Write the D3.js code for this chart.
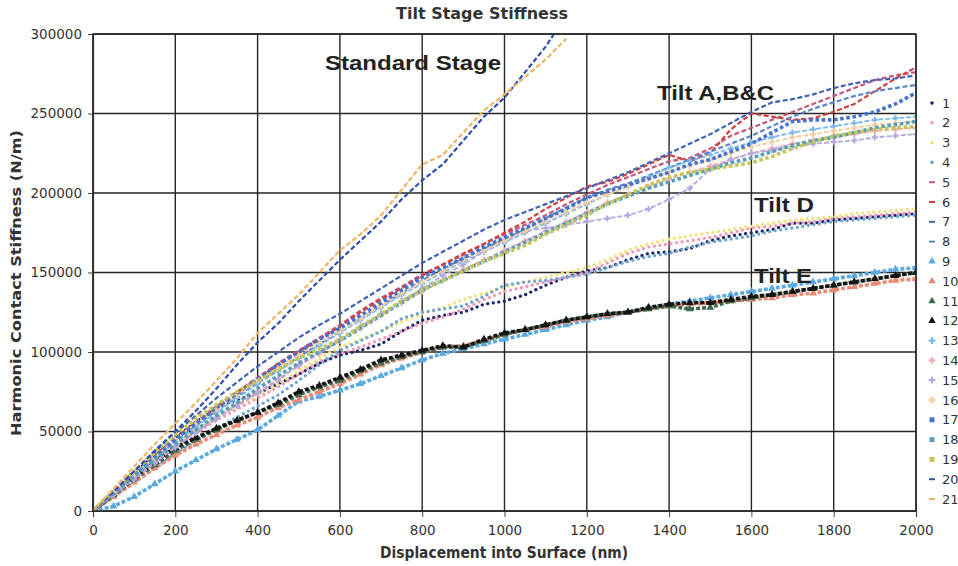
<!DOCTYPE html>
<html>
<head>
<meta charset="utf-8">
<script src="https://cdn.jsdelivr.net/npm/d3@7"></script>
<style>
  body { margin: 0; background: #fff; }
  svg text { fill: #333; }
</style>
</head>
<body>
<svg id="chart" width="958" height="566"></svg>
<script>
// displacement into surface (nm), shared by every run
var depth = [0, 50, 100, 150, 200, 250, 300, 350, 400, 450,
             500, 550, 600, 650, 700, 750, 800, 850, 900, 950,
             1000, 1050, 1100, 1150, 1200, 1250, 1300, 1350, 1400, 1450,
             1500, 1550, 1600, 1650, 1700, 1750, 1800, 1850, 1900, 1950,
             2000];

var seriesNames = ["1","2","3","4","5","6","7","8","9","10","11",
                   "12","13","14","15","16","17","18","19","20","21"];

// harmonic contact stiffness (N/m) per run
var s1 = [0, 12000, 24000, 35000, 46000, 56000, 65000, 70000, 74000, 80000,
          86000, 93000, 98000, 101000, 105000, 113000, 120000, 123000, 125000, 130000,
          132000, 136000, 142000, 147000, 151000, 153000, 158000, 162000, 163000, 165000,
          170000, 173000, 175000, 177000, 181000, 181000, 183000, 184000, 185000, 186000,
          187000];
var s2 = [0, 10000, 20000, 30000, 40000, 49000, 57000, 64000, 71000, 78000,
          86000, 94000, 99000, 103000, 108000, 113000, 118000, 122000, 127000, 133000,
          138000, 141000, 144000, 147000, 150000, 156000, 162000, 166000, 168000, 170000,
          172000, 175000, 178000, 179000, 181000, 182000, 184000, 185000, 186000, 187000,
          188000];
var s3 = [0, 11000, 22000, 32000, 42000, 51000, 59000, 66000, 73000, 80000,
          88000, 96000, 103000, 108000, 113000, 119000, 124000, 128000, 133000, 137000,
          141000, 144000, 147000, 150000, 153000, 158000, 164000, 168000, 171000, 173000,
          175000, 177000, 179000, 181000, 183000, 184000, 185000, 187000, 188000, 189000,
          190000];
var s4 = [0, 9000, 18000, 27000, 36000, 44000, 52000, 59000, 66000, 73000,
          82000, 92000, 101000, 107000, 113000, 121000, 125000, 127000, 129000, 135000,
          142000, 144000, 145000, 147000, 149000, 153000, 157000, 160000, 162000, 166000,
          169000, 171000, 173000, 176000, 178000, 180000, 182000, 183000, 184000, 185000,
          186000];
var s5 = [0, 12000, 24000, 35000, 46000, 56000, 66000, 75000, 84000, 93000,
          101000, 109000, 117000, 126000, 134000, 141000, 149000, 155000, 161000, 168000,
          174000, 180000, 186000, 193000, 199000, 205000, 210000, 215000, 220000, 222000,
          228000, 236000, 241000, 246000, 251000, 256000, 261000, 266000, 271000, 274000,
          276000];
var s6 = [0, 12000, 23000, 34000, 45000, 55000, 65000, 74000, 83000, 92000,
          100000, 108000, 116000, 125000, 133000, 140000, 148000, 155000, 162000, 168000,
          175000, 182000, 190000, 197000, 204000, 207000, 212000, 218000, 224000, 220000,
          225000, 240000, 250000, 248000, 246000, 247000, 251000, 256000, 264000, 272000,
          279000];
var s7 = [0, 13000, 25000, 37000, 49000, 60000, 71000, 81000, 91000, 100000,
          109000, 117000, 124000, 132000, 140000, 148000, 156000, 163000, 170000, 177000,
          183000, 188000, 193000, 198000, 203000, 208000, 213000, 219000, 225000, 231000,
          237000, 244000, 251000, 257000, 259000, 262000, 266000, 269000, 271000, 272000,
          274000];
var s8 = [0, 11000, 22000, 33000, 44000, 54000, 63000, 72000, 81000, 89000,
          97000, 105000, 113000, 121000, 129000, 137000, 145000, 152000, 159000, 165000,
          171000, 177000, 184000, 191000, 197000, 202000, 206000, 211000, 216000, 221000,
          226000, 231000, 236000, 242000, 248000, 253000, 257000, 261000, 264000, 266000,
          268000];
var s9 = [0, 3000, 9000, 17000, 25000, 32000, 39000, 45000, 51000, 60000,
          69000, 72000, 76000, 80000, 85000, 90000, 95000, 99000, 102000, 105000,
          108000, 111000, 114000, 117000, 120000, 122000, 125000, 128000, 130000, 132000,
          134000, 136000, 138000, 140000, 142000, 144000, 146000, 148000, 150000, 152000,
          153000];
var s10 = [0, 9000, 18000, 27000, 35000, 42000, 48000, 54000, 59000, 65000,
           70000, 75000, 80000, 86000, 92000, 96000, 100000, 103000, 104000, 107000,
           111000, 114000, 116000, 119000, 121000, 123000, 125000, 127000, 129000, 130000,
           131000, 132000, 133000, 134000, 136000, 137000, 139000, 141000, 143000, 145000,
           146000];
var s11 = [0, 10000, 20000, 29000, 38000, 45000, 51000, 57000, 62000, 67000,
           73000, 78000, 82000, 88000, 93000, 97000, 100000, 103000, 103000, 107000,
           111000, 114000, 117000, 120000, 122000, 124000, 125000, 127000, 129000, 127000,
           128000, 132000, 134000, 136000, 138000, 140000, 142000, 144000, 146000, 148000,
           150000];
var s12 = [0, 11000, 21000, 31000, 40000, 46000, 52000, 57000, 62000, 68000,
           75000, 79000, 84000, 89000, 95000, 98000, 101000, 104000, 103000, 108000,
           112000, 114000, 117000, 120000, 122000, 124000, 125000, 128000, 130000, 131000,
           131000, 133000, 135000, 136000, 138000, 140000, 142000, 144000, 146000, 148000,
           150000];
var s13 = [0, 11000, 22000, 33000, 43000, 53000, 62000, 71000, 80000, 88000,
           96000, 104000, 112000, 120000, 128000, 136000, 143000, 150000, 157000, 163000,
           169000, 175000, 181000, 187000, 193000, 199000, 204000, 210000, 216000, 220000,
           224000, 228000, 232000, 235000, 238000, 240000, 242000, 244000, 246000, 247000,
           248000];
var s14 = [0, 11000, 21000, 31000, 41000, 50000, 59000, 67000, 75000, 83000,
           91000, 99000, 107000, 115000, 123000, 131000, 138000, 145000, 152000, 158000,
           164000, 170000, 176000, 182000, 188000, 194000, 199000, 204000, 209000, 213000,
           217000, 221000, 225000, 228000, 231000, 233000, 235000, 237000, 239000, 240000,
           241000];
var s15 = [0, 10000, 20000, 30000, 40000, 49000, 58000, 66000, 74000, 82000,
           92000, 100000, 108000, 116000, 124000, 132000, 140000, 148000, 155000, 163000,
           170000, 176000, 178000, 180000, 182000, 184000, 186000, 190000, 196000, 203000,
           215000, 221000, 225000, 227000, 229000, 231000, 232000, 233000, 235000, 236000,
           237000];
var s16 = [0, 12000, 23000, 34000, 45000, 55000, 64000, 73000, 82000, 90000,
           98000, 106000, 113000, 121000, 129000, 137000, 144000, 151000, 158000, 164000,
           170000, 176000, 182000, 188000, 194000, 199000, 204000, 209000, 213000, 217000,
           221000, 225000, 229000, 232000, 235000, 237000, 239000, 241000, 243000, 244000,
           245000];
var s17 = [0, 12000, 23000, 34000, 45000, 55000, 65000, 74000, 83000, 92000,
           100000, 108000, 115000, 123000, 131000, 139000, 147000, 153000, 159000, 166000,
           172000, 178000, 184000, 190000, 197000, 201000, 205000, 209000, 213000, 218000,
           221000, 226000, 231000, 238000, 245000, 246000, 246000, 248000, 251000, 256000,
           263000];
var s18 = [0, 11000, 22000, 32000, 42000, 51000, 60000, 68000, 77000, 85000,
           93000, 100000, 107000, 115000, 123000, 131000, 139000, 145000, 151000, 157000,
           163000, 169000, 175000, 181000, 187000, 193000, 198000, 203000, 207000, 211000,
           215000, 219000, 222000, 226000, 230000, 233000, 235000, 238000, 241000, 243000,
           245000];
var s19 = [0, 13000, 25000, 37000, 48000, 58000, 67000, 75000, 82000, 89000,
           96000, 102000, 108000, 116000, 124000, 132000, 139000, 145000, 151000, 157000,
           162000, 167000, 174000, 180000, 186000, 193000, 199000, 205000, 210000, 213000,
           215000, 217000, 219000, 223000, 228000, 232000, 236000, 238000, 240000, 241000,
           242000];
// standard stage runs stop near 1150 nm
var s20 = [0, 12000, 25000, 38000, 50000, 63000, 77000, 92000, 106000, 118000,
           132000, 145000, 158000, 170000, 182000, 196000, 208000, 218000, 233000, 248000,
           260000, 276000, 292000, 312000];
var s21 = [0, 14000, 28000, 42000, 55000, 68000, 82000, 96000, 112000, 124000,
           136000, 150000, 164000, 174000, 186000, 202000, 218000, 224000, 238000, 252000,
           262000, 273000, 284000, 297000];

var seriesValues = [s1, s2, s3, s4, s5, s6, s7, s8, s9, s10, s11,
                    s12, s13, s14, s15, s16, s17, s18, s19, s20, s21];

var seriesColors = ["#1f2a6b", "#f29ab8", "#f2e27a", "#6fa6cf", "#c2587a", "#d2403c",
                    "#3f62b8", "#5d86c4", "#5aa9e0", "#e88a74", "#3d6b4c", "#141414",
                    "#7ab8ea", "#f2a9b8", "#b5a8df", "#f3cfa0", "#4673cf", "#55a0b8",
                    "#c6c658", "#2f4fae", "#f0b468"];

var seriesMarks = ["dot","dot","dot","dot","dash","dash","dash","dash",
                   "tri","tri","tri","tri","plus","plus","plus","plus",
                   "square","square","square","dash","dash"];

var xTicks = [0, 200, 400, 600, 800, 1000, 1200, 1400, 1600, 1800, 2000];
var yTicks = [0, 50000, 100000, 150000, 200000, 250000, 300000];

var labels = [
    {text: "Standard Stage", x: 325, y: 70, len: 176},
    {text: "Tilt A,B&C", x: 657, y: 100, len: 117},
    {text: "Tilt D", x: 754, y: 212, len: 60},
    {text: "Tilt E", x: 754, y: 283, len: 58}
];

var svg = d3.select("#chart");

var plotL = 93, plotR = 916, plotT = 34, plotB = 511;

var x = d3.scaleLinear().domain([0, 2000]).range([plotL, plotR]);
var y = d3.scaleLinear().domain([0, 300000]).range([plotB, plotT]);

// grid
var grid = svg.append("g").attr("stroke", "#262626").attr("stroke-width", 1.4);
grid.selectAll(".gx").data(xTicks).enter().append("line")
    .attr("x1", function (d) { return x(d); }).attr("x2", function (d) { return x(d); })
    .attr("y1", plotT).attr("y2", plotB);
grid.selectAll(".gy").data(yTicks).enter().append("line")
    .attr("x1", plotL).attr("x2", plotR)
    .attr("y1", function (d) { return y(d); }).attr("y2", function (d) { return y(d); });

// axes
var xAxis = d3.axisBottom(x).tickValues(xTicks).tickSize(6).tickPadding(8)
    .tickFormat(d3.format("d"));
var yAxis = d3.axisLeft(y).tickValues(yTicks).tickSize(5).tickPadding(6)
    .tickFormat(d3.format("d"));

var gx = svg.append("g").attr("transform", "translate(0," + plotB + ")").call(xAxis);
var gy = svg.append("g").attr("transform", "translate(" + plotL + ",0)").call(yAxis);
[gx, gy].forEach(function (g) {
    g.select(".domain").attr("stroke", "#444").attr("stroke-width", 1.2);
    g.selectAll(".tick line").attr("stroke", "#444");
    g.selectAll(".tick text").attr("fill", "#333")
        .style("font-family", "'DejaVu Sans', Verdana, sans-serif");
});
gx.selectAll(".tick text").style("font-size", "13.5px");
gy.selectAll(".tick text").style("font-size", "13.5px");

// clip
svg.append("clipPath").attr("id", "plotclip").append("rect")
    .attr("x", plotL).attr("y", plotT).attr("width", plotR - plotL).attr("height", plotB - plotT);

var line = d3.line()
    .x(function (d) { return x(d[0]); })
    .y(function (d) { return y(d[1]); });

var markStyle = {
    dot: {w: 3.2, dash: "0.1 5.5", cap: "round"},
    dash: {w: 2.2, dash: "5 2.5", cap: "butt"},
    tri: {w: 3.6, dash: "4 2", cap: "butt"},
    plus: {w: 1.8, dash: "5 2", cap: "butt"},
    square: {w: 3.6, dash: "3.6 2.6", cap: "butt"}
};

var plot = svg.append("g").attr("clip-path", "url(#plotclip)");

seriesValues.forEach(function (vals, i) {
    var pts = vals.map(function (v, j) { return [depth[j], v]; });
    var st = markStyle[seriesMarks[i]];
    plot.append("path")
        .datum(pts)
        .attr("d", line)
        .attr("fill", "none")
        .attr("stroke", seriesColors[i])
        .attr("stroke-width", st.w)
        .attr("stroke-dasharray", st.dash)
        .attr("stroke-linecap", st.cap);
    if (seriesMarks[i] == "tri" || seriesMarks[i] == "plus") {
        plot.selectAll(null).data(pts.slice(1)).enter().append("path")
            .attr("transform", function (d) { return "translate(" + x(d[0]) + "," + y(d[1]) + ")"; })
            .attr("d", d3.symbol().type(seriesMarks[i] == "tri" ? d3.symbolTriangle : d3.symbolCross).size(seriesMarks[i] == "tri" ? 26 : 20))
            .attr("fill", seriesColors[i]);
    }
});

// plot border
svg.append("rect").attr("x", plotL).attr("y", plotT)
    .attr("width", plotR - plotL).attr("height", plotB - plotT)
    .attr("fill", "none").attr("stroke", "#262626").attr("stroke-width", 1.4);

// group labels
svg.selectAll(".grp").data(labels).enter().append("text")
    .attr("x", function (d) { return d.x; })
    .attr("y", function (d) { return d.y; })
    .attr("textLength", function (d) { return d.len; })
    .attr("lengthAdjust", "spacingAndGlyphs")
    .style("font-family", "'Liberation Sans', Arial, sans-serif")
    .style("font-weight", "bold")
    .style("font-size", "21px")
    .style("fill", "#222")
    .text(function (d) { return d.text; });

// titles
svg.append("text").attr("x", 482).attr("y", 19).attr("text-anchor", "middle")
    .attr("textLength", 172).attr("lengthAdjust", "spacingAndGlyphs")
    .style("font-family", "'DejaVu Sans', Verdana, sans-serif")
    .style("font-weight", "bold").style("font-size", "15px")
    .text("Tilt Stage Stiffness");

svg.append("text").attr("x", 504).attr("y", 558).attr("text-anchor", "middle")
    .attr("textLength", 248).attr("lengthAdjust", "spacingAndGlyphs")
    .style("font-family", "'DejaVu Sans Condensed', 'DejaVu Sans', sans-serif")
    .style("font-weight", "bold").style("font-size", "15px")
    .text("Displacement into Surface (nm)");

svg.append("text").attr("transform", "translate(21,283) rotate(-90)")
    .attr("text-anchor", "middle")
    .attr("textLength", 306).attr("lengthAdjust", "spacingAndGlyphs")
    .style("font-family", "'DejaVu Sans', Verdana, sans-serif")
    .style("font-weight", "bold").style("font-size", "14px")
    .text("Harmonic Contact Stiffness (N/m)");

// legend
var legend = svg.append("g");
seriesNames.forEach(function (name, i) {
    var ly = 103 + i * 19.8, lx = 932, c = seriesColors[i], m = seriesMarks[i];
    if (m == "dot") {
        legend.append("circle").attr("cx", lx).attr("cy", ly).attr("r", 1.8).attr("fill", c);
    } else if (m == "dash") {
        legend.append("line").attr("x1", lx - 3).attr("x2", lx + 3).attr("y1", ly).attr("y2", ly)
            .attr("stroke", c).attr("stroke-width", 2);
    } else if (m == "square") {
        legend.append("rect").attr("x", lx - 2.5).attr("y", ly - 2.5).attr("width", 5).attr("height", 5).attr("fill", c);
    } else {
        legend.append("path").attr("transform", "translate(" + lx + "," + ly + ")")
            .attr("d", d3.symbol().type(m == "tri" ? d3.symbolTriangle : d3.symbolCross).size(m == "tri" ? 24 : 26))
            .attr("fill", c);
    }
    legend.append("text").attr("x", 942).attr("y", ly + 4.5)
        .style("font-family", "'DejaVu Sans', Verdana, sans-serif")
        .style("font-size", "13px").attr("fill", "#333")
        .text(name);
});
</script>
</body>
</html>
